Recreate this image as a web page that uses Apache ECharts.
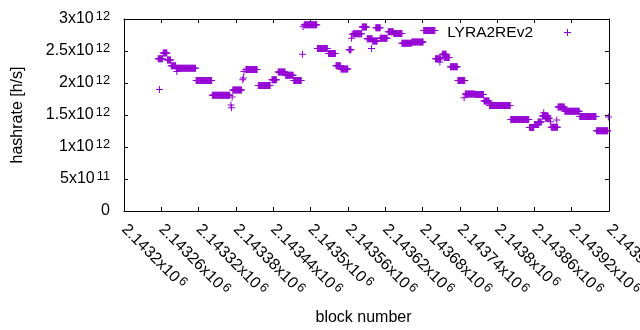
<!DOCTYPE html>
<html>
<head>
<meta charset="utf-8">
<title>LYRA2REv2 hashrate</title>
<script src="https://cdn.jsdelivr.net/npm/echarts@6/dist/echarts.min.js"></script>
<style>
  html, body { margin: 0; padding: 0; background: #ffffff; }
  #chart { width: 640px; height: 330px; }
</style>
</head>
<body>
<div id="chart"></div>
<script>
// runs of blocks with the same hashrate (first block, last block, value)
const runStart = [
  2143255, 2143263, 2143270, 2143276, 2143284, 2143316, 2143342, 2143375, 2143396, 2143416,
  2143438, 2143448, 2143460, 2143473, 2143490, 2143511, 2143529, 2143541, 2143549, 2143562,
  2143569, 2143583, 2143591, 2143600, 2143605, 2143612, 2143625, 2143634, 2143647, 2143663,
  2143682, 2143701, 2143712, 2143715, 2143725, 2143737, 2143749, 2143765, 2143779, 2143788,
  2143822, 2143852, 2143860, 2143866, 2143873, 2143878, 2143887, 2143898, 2143909, 2143933,
  2143960
]
const runEnd = [
  2143262, 2143269, 2143275, 2143283, 2143315, 2143341, 2143370, 2143389, 2143414, 2143435,
  2143445, 2143459, 2143472, 2143485, 2143510, 2143527, 2143540, 2143548, 2143560, 2143565,
  2143582, 2143590, 2143599, 2143607, 2143612, 2143623, 2143633, 2143647, 2143662, 2143681,
  2143700, 2143709, 2143718, 2143723, 2143736, 2143748, 2143764, 2143778, 2143787, 2143821,
  2143851, 2143859, 2143867, 2143871, 2143882, 2143884, 2143897, 2143908, 2143932, 2143959,
  2143978
]
const runValue = [
  2.38e12, 2.47e12, 2.36e12, 2.27e12, 2.23e12, 2.04e12, 1.81e12, 1.89e12, 2.21e12, 1.96e12,
  2.05e12, 2.17e12, 2.12e12, 2.04e12, 2.91e12, 2.54e12, 2.46e12, 2.27e12, 2.22e12, 2.52e12,
  2.77e12, 2.875e12, 2.69e12, 2.655e12, 2.865e12, 2.70e12, 2.80e12, 2.775e12, 2.62e12, 2.64e12,
  2.82e12, 2.38e12, 2.45e12, 2.40e12, 2.255e12, 2.04e12, 1.83e12, 1.82e12, 1.72e12, 1.65e12,
  1.43e12, 1.305e12, 1.35e12, 1.39e12, 1.485e12, 1.45e12, 1.31e12, 1.625e12, 1.56e12, 1.475e12,
  1.255e12
]
// isolated blocks
const singleBlock = [
  2143257, 2143285, 2143372, 2143373, 2143374, 2143391, 2143392, 2143393, 2143487, 2143488,
  2143566, 2143567, 2143598, 2143708, 2143747, 2143875, 2143886, 2143896, 2143979
]
const singleValue = [
  1.90e12, 2.18e12, 1.655e12, 1.615e12, 1.78e12, 2.05e12, 2.08e12, 2.18e12, 2.45e12, 2.88e12,
  2.70e12, 2.76e12, 2.54e12, 2.33e12, 1.77e12, 1.535e12, 1.395e12, 1.42e12, 1.47e12
]
const seriesName = 'LYRA2REv2'

const xMin = 2143200
const xMax = 2143980
const xStep = 60
const yMin = 0
const yMax = 3e12
const yStep = 5e11

const plusPath = 'path://M0,3H7V4H0Z M3,0H4V7H3Z'
const purple = '#9400d3'
const baseFont = 'Liberation Sans, Arial, sans-serif'

function getPoints() {
  const points = []
  runStart.forEach( ( start, i ) => {
    for ( let b = start; b <= runEnd[i]; b++ ) {
      points.push( [b, runValue[i]] )
    }
  } )
  singleBlock.forEach( ( b, i ) => {
    points.push( [b, singleValue[i]] )
  } )
  return points
}

// gnuplot style "2.5x10^12"
function sciLabel( v ) {
  if ( v === 0 ) {
    return '{m|0}'
  }
  const exp = Math.floor( Math.log10( v ) + 1e-9 )
  const mant = parseFloat( ( v / Math.pow( 10, exp ) ).toPrecision( 8 ) )
  return '{m|' + mant + 'x10}{e|' + exp + '}'
}

const labelRich = {
  m : { fontSize : 16, fontFamily : baseFont, color : '#000' },
  e : { fontSize : 12.8, fontFamily : baseFont, color : '#000', padding : [0, 0, 6, 2] }
}

const chart = echarts.init( document.getElementById( 'chart' ), null, { renderer : 'canvas' } )

chart.setOption( {
  animation : false,
  backgroundColor : '#ffffff',
  grid : {
    left : 124,
    right : 31,
    top : 19,
    bottom : 119,
    containLabel : false,
    outerBoundsMode : 'none'
  },
  legend : {
    data : [{ name : seriesName, icon : plusPath }],
    align : 'right',
    right : 69,
    top : 24.5,
    padding : 0,
    itemWidth : 7,
    itemHeight : 7,
    itemStyle : { color : purple },
    formatter : '{a|{name}}{b|}',
    textStyle : {
      rich : {
        a : { fontSize : 15.5, fontFamily : baseFont, color : '#000' },
        b : { width : 26 }
      }
    }
  },
  xAxis : [
    {
      type : 'value',
      min : xMin,
      max : xMax,
      interval : xStep,
      name : 'block number',
      nameLocation : 'middle',
      nameGap : 99,
      nameTextStyle : { fontSize : 16, fontFamily : baseFont, color : '#000', padding : [0, 6, 0, 0] },
      axisLine : { show : true, onZero : false, lineStyle : { color : '#000', width : 1 } },
      axisTick : { show : true, inside : true, length : 4, lineStyle : { color : '#000' } },
      splitLine : { show : false },
      axisLabel : {
        rotate : -45,
        margin : 16,
        showMinLabel : true,
        showMaxLabel : true,
        hideOverlap : false,
        formatter : v => '{m|' + parseFloat( ( v / 1e6 ).toPrecision( 10 ) ) + 'x10}{e|6}',
        rich : labelRich
      }
    },
    {
      type : 'value',
      position : 'top',
      min : xMin,
      max : xMax,
      interval : xStep,
      axisLine : { show : true, onZero : false, lineStyle : { color : '#000', width : 1 } },
      axisTick : { show : true, inside : true, length : 4, lineStyle : { color : '#000' } },
      axisLabel : { show : false },
      splitLine : { show : false }
    }
  ],
  yAxis : [
    {
      type : 'value',
      min : yMin,
      max : yMax,
      interval : yStep,
      name : 'hashrate [h/s]',
      nameLocation : 'middle',
      nameGap : 98,
      nameTextStyle : { fontSize : 16, fontFamily : baseFont, color : '#000' },
      axisLine : { show : true, onZero : false, lineStyle : { color : '#000', width : 1 } },
      axisTick : { show : true, inside : true, length : 4, lineStyle : { color : '#000' } },
      splitLine : { show : false },
      axisLabel : {
        margin : 14,
        formatter : sciLabel,
        rich : labelRich
      }
    },
    {
      type : 'value',
      position : 'right',
      min : yMin,
      max : yMax,
      interval : yStep,
      axisLine : { show : true, onZero : false, lineStyle : { color : '#000', width : 1 } },
      axisTick : { show : true, inside : true, length : 4, lineStyle : { color : '#000' } },
      axisLabel : { show : false },
      splitLine : { show : false }
    }
  ],
  series : [
    {
      name : seriesName,
      type : 'scatter',
      xAxisIndex : 0,
      yAxisIndex : 0,
      symbol : plusPath,
      symbolSize : 7,
      itemStyle : { color : purple, opacity : 1 },
      large : false,
      data : getPoints()
    }
  ]
} )
</script>
</body>
</html>
